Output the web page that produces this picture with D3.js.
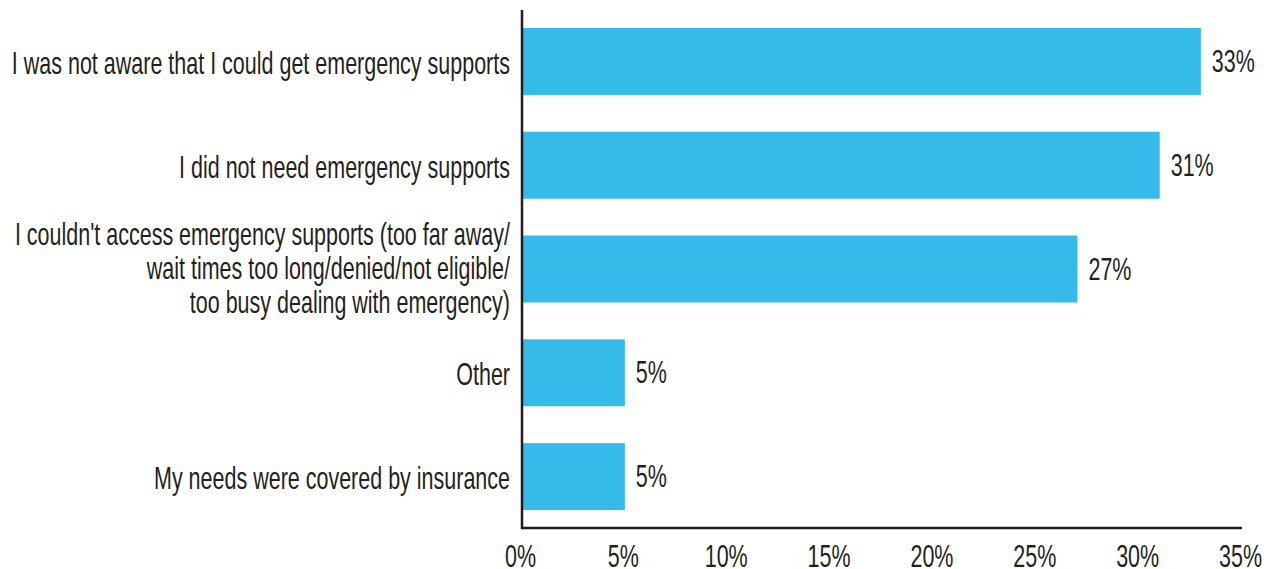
<!DOCTYPE html>
<html><head><meta charset="utf-8">
<script src="https://cdn.jsdelivr.net/npm/d3@7"></script>
<style>
body{margin:0;background:#fff;}
text{font-family:"Liberation Sans Narrow","Arial Narrow",sans-serif;fill:#231f20;}
</style></head>
<body><svg id="c" width="1275" height="569"></svg>
<script>
const categories = [
  ["I was not aware that I could get emergency supports"],
  ["I did not need emergency supports"],
  ["I couldn't access emergency supports (too far away/","wait times too long/denied/not eligible/","too busy dealing with emergency)"],
  ["Other"],
  ["My needs were covered by insurance"]
];
const values = [33, 31, 27, 5, 5];
const tickValues = [0,5,10,15,20,25,30,35];

const svg = d3.select("#c");
const x = d3.scaleLinear().domain([0,35]).range([522,1242]);
const y = d3.scaleBand().domain(d3.range(categories.length)).range([10,528]).paddingInner(0.355).paddingOuter(0.173);
const FS = 30.5, SX = 0.705;

svg.selectAll("rect.bar").data(values).join("rect").attr("class","bar")
  .attr("x", x(0)).attr("y",(d,i)=>y(i)).attr("width",d=>x(d)-x(0)).attr("height",y.bandwidth())
  .attr("fill","#35bbea");

svg.append("line").attr("x1",x(0)).attr("x2",x(0)).attr("y1",10).attr("y2",529).attr("stroke","#231f20").attr("stroke-width",2.5);
svg.append("line").attr("x1",x(0)-1).attr("x2",x(35)).attr("y1",528).attr("y2",528).attr("stroke","#231f20").attr("stroke-width",2.5);

const xa = svg.append("g").attr("transform","translate(0,528)")
  .call(d3.axisBottom(x).tickValues(tickValues).tickFormat(d=>d+"%").tickSize(0).tickPadding(0));
xa.select(".domain").remove();
xa.selectAll(".tick").attr("transform",d=>`translate(${x(d)-1.5},0)`);
xa.selectAll("text").attr("font-size",FS).attr("font-family",null).attr("dy",null).attr("y",null)
  .attr("transform","translate(0,38.5) scale("+SX+",1)");

svg.selectAll("text.val").data(values).join("text").attr("class","val")
  .attr("transform",(d,i)=>`translate(${x(d)+11},${y(i)+y.bandwidth()/2+10.5}) scale(${SX},1)`)
  .attr("font-size",FS).text(d=>d+"%");

const lg = svg.selectAll("g.lab").data(categories).join("g").attr("class","lab");
lg.each(function(lines,i){
  const n = lines.length, lh = 34;
  const cy = y(i)+y.bandwidth()/2;
  const off = n === 1 ? 12.5 : 10;
  d3.select(this).selectAll("text").data(lines).join("text")
    .attr("text-anchor","end").attr("font-size",FS)
    .attr("transform",(l,j)=>`translate(510,${cy + (j-(n-1)/2)*lh + off}) scale(${SX},1)`)
    .text(l=>l);
});
</script></body></html>
